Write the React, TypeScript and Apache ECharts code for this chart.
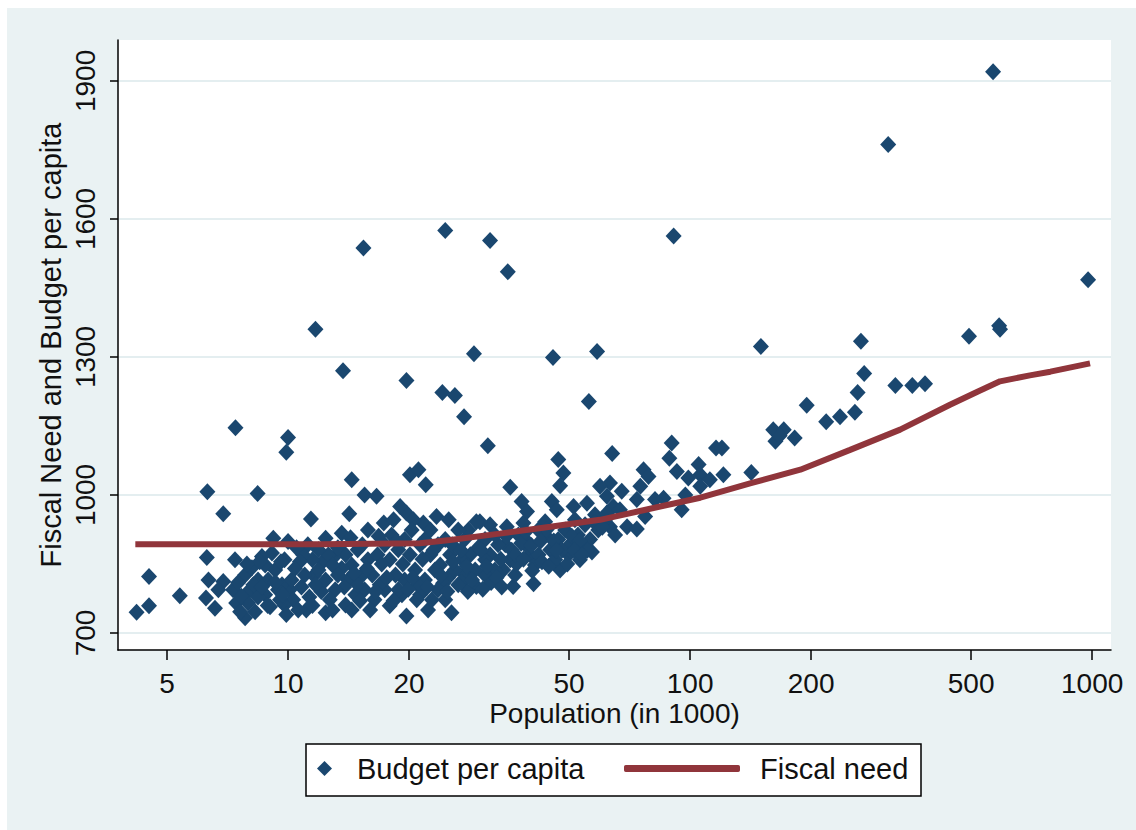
import React, { useEffect, useRef } from "react";
import * as echarts from "echarts";

// Budget per capita: [population in 1000, budget per capita]
const budgetOutliers: number[][] = [
  [567, 1920], [311, 1762], [24.6, 1575], [31.8, 1553], [15.4, 1537], [91, 1563], [35.2, 1485],
  [977, 1468], [11.7, 1360], [13.7, 1270], [29, 1307], [45.6, 1299], [58.7, 1312], [150, 1323],
  [266, 1334], [271, 1264], [494, 1345], [587, 1368], [590, 1360], [19.7, 1249], [24.2, 1223],
  [26, 1216], [27.4, 1170], [56, 1203], [7.4, 1146], [10, 1125], [9.9, 1093], [31.4, 1107],
  [14.4, 1033], [6.3, 1007], [8.4, 1003], [6.9, 959], [15.5, 1000], [16.6, 997], [11.4, 948],
  [14.2, 959],
];

const budgetLarge: number[][] = [
  [324, 1238], [357, 1238], [384, 1242], [261, 1223], [257, 1180], [236, 1170], [218, 1159],
  [195, 1195], [161, 1142], [171, 1142], [163, 1117], [182, 1124], [167, 1129], [116, 1102],
  [120, 1102], [142, 1049], [90, 1113], [88.8, 1080], [64, 1090], [76.6, 1055], [78.8, 1040],
  [92.7, 1051], [99, 1037], [105, 1066], [106, 1044], [106, 1019], [121, 1044], [63.2, 1026],
  [67.6, 1008], [62.1, 997], [75.2, 1019], [73.7, 990], [85.9, 993], [81.8, 990], [95.3, 968],
  [63.2, 931], [69.7, 931], [73.7, 926], [77.3, 953], [64.4, 975], [66.9, 968], [112, 1033],
  [97.3, 1000],
];

const budgetMedium: number[][] = [
  [47, 1077], [48.4, 1048], [47.5, 1020], [59.7, 1019], [45.3, 986], [46.6, 968], [51.3, 975],
  [55.4, 982], [54.3, 888], [53.2, 859], [47.5, 837], [48.9, 924], [50.2, 892], [51.7, 946],
  [49.8, 870], [52.6, 913], [54.8, 935], [56.4, 903], [58, 957], [59.1, 924], [57, 876],
  [43.6, 913], [44.9, 881], [46.2, 859], [43.6, 942], [47, 903], [61.5, 946], [65.1, 913],
  [38.5, 939], [38.1, 986], [39.3, 964], [40.8, 807], [38.9, 903], [40, 870], [41.1, 848],
  [41.9, 924], [39.6, 885],
  [35, 931], [35.7, 1017], [36.3, 801], [34.7, 892], [35.7, 859], [36.7, 826], [37.4, 913],
  [34.3, 837],
  [31.8, 935], [30.9, 903], [31.8, 870], [32.7, 837], [30.9, 826], [33.3, 892], [30.9, 859],
  [32.7, 913], [30, 942],
  [29.4, 942], [29.4, 801], [27.5, 903], [28.4, 870], [29.2, 837], [27.5, 826], [28.1, 924],
  [29.7, 885], [27.1, 859],
  [32, 810], [33.8, 860], [34.9, 910], [36, 880], [37, 850], [38, 895], [39, 920], [40.3, 890],
  [42.5, 900], [42, 870], [44, 925], [45.8, 900], [48, 880], [50.8, 910], [53, 900], [55.5, 880],
  [57.8, 940], [60.5, 930], [62, 960],
  [25, 820], [27, 810], [28, 790], [30.5, 795], [33, 820], [34, 800], [36.8, 870], [38.5, 860],
  [40.5, 835], [42.8, 855], [44.5, 845], [46.5, 880], [51.5, 880], [49.5, 850], [53.8, 870],
];

const budgetSmall: number[][] = [
  [25.1, 946], [25.5, 744], [24.3, 808], [24.6, 903], [25.3, 870], [26, 837], [24.6, 772],
  [26.5, 805], [26.5, 924], [25.6, 892], [23.9, 848],
  [22, 1022], [21.7, 939], [22.3, 750], [23.4, 953], [21.9, 903], [22.6, 870], [23.2, 837],
  [21.9, 815], [23.6, 794], [22.8, 772], [23.6, 892], [22.6, 924], [21.3, 783],
  [19.7, 961], [20.1, 1044], [21.1, 1055], [19.7, 737], [20.9, 772], [19.5, 903], [20.1, 870],
  [20.7, 837], [19.5, 815], [21, 805], [20.5, 946], [21.3, 892], [20.3, 924], [19, 975],
  [19.2, 783],
  [17.3, 939], [18.3, 946], [17.9, 759], [17.4, 892], [17.9, 859], [18.5, 826], [17.4, 794],
  [18.8, 794], [18.8, 881], [18.1, 913], [16.8, 910],
  [15.3, 892], [15.8, 859], [16.2, 826], [15.5, 794], [16.4, 772], [16, 750], [16.7, 870],
  [16.9, 805], [15.3, 826], [15.8, 924],
  [13.6, 917], [14.3, 907], [13.9, 870], [14.4, 848], [14.1, 815], [14.7, 783], [13.9, 761],
  [14.9, 881], [14.9, 805], [14.4, 750],
  [11.6, 825], [12.1, 790], [12.2, 855], [13, 865], [13.6, 840], [13.8, 800], [14.6, 830],
  [15.1, 770], [15.7, 840], [16.5, 790], [17.1, 850], [17.6, 820], [18.3, 770], [18.6, 900],
  [19.3, 850], [19.9, 795], [20.4, 820], [21.6, 860], [22.2, 800], [23, 880], [24, 825],
  [24.9, 790], [25.7, 855], [26.9, 880], [27.8, 845], [28.7, 815], [30.2, 880], [31.2, 845],
];

const budgetTiny: number[][] = [
  [12.4, 744], [12.4, 906], [12.6, 870], [12.9, 848], [12.4, 815], [13.1, 794], [12.7, 772],
  [13.3, 885], [13.3, 826], [12.9, 750],
  [11.1, 750], [11.2, 892], [11.5, 859], [11, 826], [11.7, 805], [11.3, 778], [11.9, 837],
  [11.9, 881], [10.9, 870],
  [10, 899], [9.8, 859], [10.1, 794], [10.3, 772], [10.6, 750], [9.8, 761], [10.7, 855],
  [10.5, 885], [9.66, 805],
  [8.77, 848], [8.92, 815], [8.77, 783], [9.02, 757], [9.19, 906], [9.44, 794], [9.55, 772],
  [9.12, 874], [8.61, 866], [9.29, 837],
  [7.82, 826], [8.04, 794], [7.95, 765], [8.28, 746], [8.42, 815], [8.13, 842], [8.42, 778],
  [7.82, 733],
  [7.3, 794], [7.43, 765], [7.6, 746], [7.51, 809], [7.38, 859],
  [4.2, 745], [4.51, 823], [4.51, 759], [5.38, 781], [6.28, 864], [6.34, 815], [6.25, 776],
  [6.58, 754], [6.9, 812], [6.71, 794],
  [7.65, 780], [8.2, 805], [8.6, 800], [8.9, 760], [9.3, 810], [9.7, 783], [10.2, 815],
  [10.4, 840], [9.9, 740], [8.5, 855], [7.9, 850], [9.6, 855], [10.8, 800], [11.5, 760],
];

// Fiscal need line
const needPop = [4.17, 8, 12, 16, 21.3, 25.3, 33.6, 44.9, 59.7, 79.5, 106, 141, 188, 250, 333, 443, 520, 590, 700, 787, 988];
const needValue = [893, 893, 893, 894, 895, 902, 916, 931, 946, 970, 994, 1025, 1055, 1098, 1142, 1196, 1225, 1247, 1260, 1268, 1286];

const xTicks = [5, 10, 20, 50, 100, 200, 500, 1000];
const yTicks = [700, 1000, 1300, 1600, 1900];

const xMinPop = 3.776;
const xMaxPop = 1114;
const yMin = 663;
const yMax = 1989;

const FONT = "'Liberation Sans', Arial, Helvetica, sans-serif";
const TEXT = "#111";
const NAVY = "#1A476F";
const MAROON = "#90353B";

export default function App() {
  const ref = useRef<HTMLDivElement>(null);

  useEffect(() => {
    if (!ref.current) return;
    const chart = echarts.init(ref.current, null, { renderer: "svg" });
    const budget = [...budgetOutliers, ...budgetLarge, ...budgetMedium, ...budgetSmall, ...budgetTiny];
    const xTickLogs = xTicks.map((t) => Math.log10(t));

    const option: any = {
      animation: false,
      backgroundColor: "#EAF2F3",
      textStyle: { fontFamily: FONT },
      graphic: [
        { type: "rect", silent: true, shape: { x: 0, y: 0, width: 1136, height: 8 }, style: { fill: "#fff" } },
        { type: "rect", silent: true, shape: { x: 0, y: 0, width: 7, height: 830 }, style: { fill: "#fff" } },
        {
          type: "rect",
          silent: true,
          z: 1,
          shape: { x: 306, y: 744, width: 615, height: 52 },
          style: { fill: "#fff", stroke: "#000", lineWidth: 1.5 },
        },
      ],
      grid: {
        left: 118,
        right: 25,
        top: 40,
        bottom: 180,
        show: true,
        backgroundColor: "#fff",
        borderWidth: 0,
        containLabel: false,
        outerBoundsMode: "none",
      },
      xAxis: {
        type: "value",
        min: Math.log10(xMinPop),
        max: Math.log10(xMaxPop),
        axisLine: { show: true, onZero: false, lineStyle: { color: "#000", width: 1.5 } },
        axisTick: { show: true, length: 10, customValues: xTickLogs, lineStyle: { color: "#000", width: 1.5 } },
        axisLabel: {
          customValues: xTickLogs,
          formatter: (v: number) => String(Math.round(Math.pow(10, v))),
          fontSize: 28,
          color: TEXT,
          margin: 19,
          fontFamily: FONT,
        },
        splitLine: { show: false },
        name: "Population (in 1000)",
        nameLocation: "middle",
        nameGap: 49,
        nameMoveOverlap: false,
        nameTextStyle: { fontSize: 28, color: TEXT, fontFamily: FONT },
      },
      yAxis: {
        type: "value",
        min: yMin,
        max: yMax,
        axisLine: { show: true, onZero: false, lineStyle: { color: "#000", width: 1.5 } },
        axisTick: { show: true, length: 8, customValues: yTicks, lineStyle: { color: "#000", width: 1.5 } },
        axisLabel: {
          customValues: yTicks,
          formatter: (v: number) => String(v),
          rotate: 90,
          margin: 19,
          fontSize: 28,
          color: TEXT,
          fontFamily: FONT,
        },
        splitLine: { show: true, lineStyle: { color: "#E4EEF0", width: 2 } },
        name: "Fiscal Need and Budget per capita",
        nameLocation: "middle",
        nameGap: 53,
        nameMoveOverlap: false,
        nameTextStyle: { fontSize: 29, color: TEXT, fontFamily: FONT },
      },
      legend: [
        {
          data: [{ name: "Budget per capita", icon: "diamond" }],
          left: 317,
          top: 754,
          padding: 0,
          itemWidth: 15,
          itemHeight: 15,
          selectedMode: false,
          textStyle: { fontSize: 29, color: TEXT, fontFamily: FONT, padding: [0, 0, 0, 20] },
        },
        {
          data: [{ name: "Fiscal need", icon: "roundRect" }],
          left: 624,
          top: 754,
          padding: 0,
          itemWidth: 116,
          itemHeight: 7,
          selectedMode: false,
          textStyle: { fontSize: 29, color: TEXT, fontFamily: FONT, padding: [0, 0, 0, 15] },
        },
      ],
      series: [
        {
          name: "Budget per capita",
          type: "scatter",
          symbol: "diamond",
          symbolSize: [16, 17],
          itemStyle: { color: NAVY, opacity: 1 },
          data: budget.map(([p, v]) => [Math.log10(p), v]),
        },
        {
          name: "Fiscal need",
          type: "line",
          showSymbol: false,
          symbol: "none",
          itemStyle: { color: MAROON },
          lineStyle: { color: MAROON, width: 6 },
          data: needPop.map((p, i) => [Math.log10(p), needValue[i]]),
        },
      ],
    };

    chart.setOption(option);
    return () => chart.dispose();
  }, []);

  return (
    <div
      ref={ref}
      style={{ position: "fixed", left: 0, top: 0, width: 1136, height: 830 }}
    />
  );
}
